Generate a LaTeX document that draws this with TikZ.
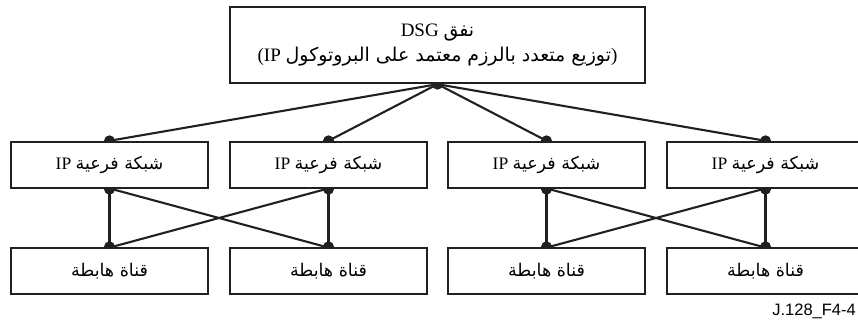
\documentclass[tikz,border=0pt]{standalone}
\usepackage{fontspec}
\setmainfont{Liberation Serif}
\newfontfamily\arabicfont[Script=Arabic]{DejaVu Sans}
\newfontfamily\labelfont{Liberation Sans}
\TeXXeTstate=1
\usetikzlibrary{backgrounds}
\definecolor{ink}{HTML}{231F20}
% Arabic words set right to left inside a left-to-right line
\newcommand\artext[1]{{\arabicfont\beginR #1\endR}}

\begin{document}
\begin{tikzpicture}[x=1pt,y=-1pt,
  box/.style={draw=ink, line width=2.4pt, fill=white, inner sep=0pt,
    minimum width=197pt, minimum height=46pt,
    font=\fontsize{17.5}{20}\selectfont},
  topbox/.style={box, minimum width=415pt, minimum height=76pt, align=center,
    font=\fontsize{19}{25}\selectfont},
  link/.style={draw=ink, line width=2.1pt},
  joint/.style={fill=ink}]
\useasboundingbox (0,0) rectangle (858,320);

% tunnel
\node[topbox] (tun) at (437.5,45)
  {DSG \artext{نفق}\\(IP \artext{توزيع متعدد بالرزم معتمد على البروتوكول})};

% IP subnets and their downlink channels
\foreach \i/\x in {1/109.5, 2/328.5, 3/546.5, 4/765.5} {
  \node[box] (sub\i) at (\x,165) {IP \artext{شبكة فرعية}};
  \node[box] (dl\i) at (\x,271) {\artext{قناة هابطة}};
}

\node[font=\labelfont\fontsize{16.5}{18}\selectfont, anchor=base east, inner sep=0pt]
  (fig) at (856,315) {J.128\_F4-4};

\begin{scope}[on background layer]
  \foreach \i in {1,...,4} {
    \draw[link] (tun.south) -- (sub\i.north);
    \draw[link] (sub\i.south) -- (dl\i.north);
  }
  \draw[link] ([xshift=3pt]sub1.south) -- ([xshift=-3pt]dl2.north);
  \draw[link] ([xshift=-3pt]sub2.south) -- ([xshift=3pt]dl1.north);
  \draw[link] ([xshift=3pt]sub3.south) -- ([xshift=-3pt]dl4.north);
  \draw[link] ([xshift=-3pt]sub4.south) -- ([xshift=3pt]dl3.north);
  \fill[joint] (tun.south) circle (5.5);
  \foreach \i in {1,...,4} {
    \fill[joint] (sub\i.north) circle (5.5);
    \fill[joint] (sub\i.south) circle (5.5);
    \fill[joint] (dl\i.north) circle (5.5);
  }
\end{scope}
\end{tikzpicture}
\end{document}
